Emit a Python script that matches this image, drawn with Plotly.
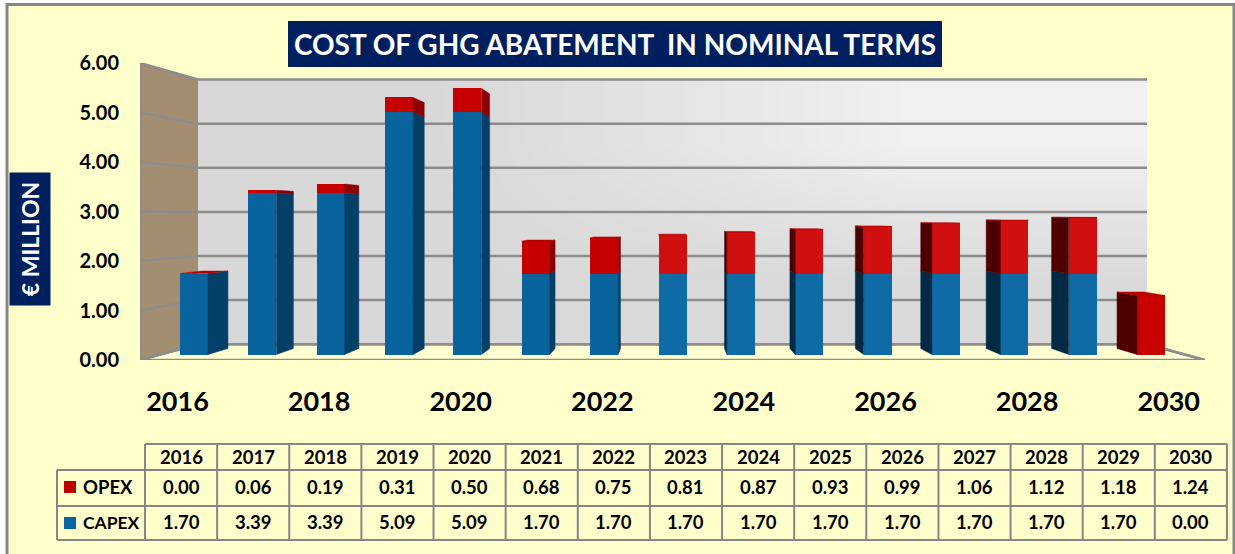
import plotly.graph_objects as go

years = list(range(2016, 2031))
opex = [0.00, 0.06, 0.19, 0.31, 0.50, 0.68, 0.75, 0.81, 0.87, 0.93, 0.99, 1.06, 1.12, 1.18, 1.24]
capex = [1.70, 3.39, 3.39, 5.09, 5.09, 1.70, 1.70, 1.70, 1.70, 1.70, 1.70, 1.70, 1.70, 1.70, 0.00]
value_ticks = [0, 1, 2, 3, 4, 5, 6]
year_ticks = [2016, 2018, 2020, 2022, 2024, 2026, 2028, 2030]

W, H = 1235, 554
FONT = "Lato"
BG = "#FFFFCC"
NAVY = "#001F5F"
GRID = "#8C8C8C"
INK = "#000000"
BLUE, RED = "#0A659F", "#C90505"

# plot rectangle in page pixels: the front plane of the 3-D box
PX0, PX1, PY0, PY1 = 140, 1205, 63, 360
def xp(px): return px / W
def yp(py): return 1 - py / H

# Vanishing point and depths, shared by both coordinate systems
VX, VV = 2022.99, 2.93
WALL_S = 0.891      # back wall relative to the front plane
BAR_S = 0.957       # rear of a bar relative to its front face
BAR_HALF = 0.205

def depth(x, v, s):
    return VX + (x - VX) * s, VV + (v - VV) * s

fig = go.Figure()

# ---- box (front-plane axes x / y) ----
wx0 = 2016 + (PX0 - 177.5) / 70.8
wx1 = 2016 + (PX1 - 177.5) / 70.8
bl = depth(wx0, 0, WALL_S)
tl = depth(wx0, 6, WALL_S)
br = depth(wx1, 0, WALL_S)
tr = depth(wx1, 6, WALL_S)

# floor
fig.add_trace(go.Scatter(x=[wx0, bl[0], br[0], wx1, wx0], y=[0, bl[1], br[1], 0, 0], mode="lines",
                         fill="toself", fillcolor="#FFFFD2", line=dict(color=GRID, width=2.5),
                         hoverinfo="skip", showlegend=False))
# back wall with its soft diagonal shading
fig.add_trace(go.Heatmap(x=[bl[0], (bl[0] + br[0]) / 2, br[0]], y=[bl[1], (bl[1] + tl[1]) / 2, tl[1]],
                         z=[[0.0, 0.1], [0.0, 1.0]], zsmooth="best", zmin=0, zmax=1,
                         colorscale=[[0, "#D8D8D8"], [1, "#F0F0F0"]], showscale=False, hoverinfo="skip"))
# side wall
fig.add_trace(go.Scatter(x=[wx0, bl[0], tl[0], wx0, wx0], y=[0, bl[1], tl[1], 6, 0], mode="lines",
                         fill="toself", fillcolor="#A38D70", line=dict(color="rgba(0,0,0,0)", width=0),
                         hoverinfo="skip", showlegend=False))
# grid lines
for v in value_ticks:
    a = depth(wx0, v, WALL_S)
    b = depth(wx1, v, WALL_S)
    fig.add_trace(go.Scatter(x=[wx0, a[0], b[0]], y=[v, a[1], b[1]], mode="lines",
                             line=dict(color=GRID, width=2.5), hoverinfo="skip", showlegend=False))
fig.add_trace(go.Scatter(x=[wx0, wx0], y=[0, 6], mode="lines", line=dict(color=GRID, width=3),
                         hoverinfo="skip", showlegend=False))
fig.add_trace(go.Scatter(x=[wx1, br[0]], y=[0, br[1]], mode="lines", line=dict(color=GRID, width=2.5),
                         hoverinfo="skip", showlegend=False))

# ---- bars (bar-plane axes x2 / y2) ----
blue_faces = ["#09639C" if y < VX else "#0F6BA6" for y in years]
red_faces = ["#C60000" if y < VX else "#D01010" for y in years]
red_faces[-1] = "#C80000"
fig.add_trace(go.Bar(x=years, y=capex, name="CAPEX", marker=dict(color=blue_faces, line=dict(width=0)),
                     width=2 * BAR_HALF, xaxis="x2", yaxis="y2", showlegend=False))
fig.add_trace(go.Bar(x=years, y=opex, name="OPEX", marker=dict(color=red_faces, line=dict(width=0)),
                     width=2 * BAR_HALF, xaxis="x2", yaxis="y2", showlegend=False))

def quad(xs, ys, color):
    fig.add_trace(go.Scatter(x=xs + xs[:1], y=ys + ys[:1], mode="lines", fill="toself", fillcolor=color,
                             line=dict(color=color, width=0.5), xaxis="x2", yaxis="y2",
                             hoverinfo="skip", showlegend=False))

for yr, cap, op in zip(years, capex, opex):
    left, right = yr - BAR_HALF, yr + BAR_HALF
    total = cap + op
    # side faces towards the vanishing point
    edge = right if right < VX else left if left > VX else None
    if edge is not None:
        early = edge < VX
        side_blue = "#033F66" if early else "#022A44"
        side_red = "#8A0004" if early else "#4E0000"
        for lo, hi, colr in ((0, cap, side_blue), (cap, total, side_red)):
            if hi > lo:
                a = depth(edge, lo, BAR_S)
                b = depth(edge, hi, BAR_S)
                quad([edge, a[0], b[0], edge], [lo, a[1], b[1], hi], colr)
    # top face is visible below eye level
    if total < VV:
        a = depth(left, total, BAR_S)
        b = depth(right, total, BAR_S)
        quad([left, a[0], b[0], right], [total, a[1], b[1], total], "#B80000")

# ---- table ----
TX = [57, 145] + [145 + 72.13 * (i + 1) for i in range(15)]
TY = [444, 470, 506, 540]
shapes = [
    dict(type="rect", xref="paper", yref="paper", x0=xp(7), x1=xp(1234), y0=yp(560), y1=yp(4.5),
         fillcolor=BG, line=dict(color="#868686", width=3), layer="below"),
    dict(type="rect", xref="paper", yref="paper", x0=xp(288), x1=xp(942), y0=yp(67), y1=yp(21),
         fillcolor=NAVY, line=dict(width=0), layer="below"),
]
def tline(x0, y0, x1, y1):
    shapes.append(dict(type="line", xref="paper", yref="paper", x0=xp(x0), x1=xp(x1), y0=yp(y0), y1=yp(y1),
                       line=dict(color="#868686", width=2)))
tline(TX[1], TY[0], TX[-1], TY[0])
for yy in TY[1:]:
    tline(TX[0], yy, TX[-1], yy)
tline(TX[0], TY[1], TX[0], TY[3])
for xx in TX[1:]:
    tline(xx, TY[0], xx, TY[3])
for color, y0 in (("#C00000", 481), (BLUE, 517)):
    shapes.append(dict(type="rect", xref="paper", yref="paper", x0=xp(64), x1=xp(76), y0=yp(y0 + 12), y1=yp(y0),
                       fillcolor=color, line=dict(width=0)))

annotations = [dict(text="€ MILLION", textangle=-90, xref="paper", yref="paper", x=xp(30), y=yp(239),
                    xanchor="center", yanchor="middle", showarrow=False,
                    font=dict(family=FONT, size=23, color="white", weight="bold"),
                    bgcolor=NAVY, borderpad=0, width=132, height=40)]
def cell(text, px, py, size=18.5, anchor="center"):
    annotations.append(dict(text=text, xref="paper", yref="paper", x=xp(px), y=yp(py), showarrow=False,
                            xanchor=anchor, yanchor="middle",
                            font=dict(family=FONT, size=size, color=INK, weight="bold")))
for i, yr in enumerate(years):
    cx = (TX[i + 1] + TX[i + 2]) / 2
    cell(str(yr), cx, 457)
    cell(f"{opex[i]:.2f}", cx, 487)
    cell(f"{capex[i]:.2f}", cx, 522)
cell("OPEX", 81, 487, anchor="left")
cell("CAPEX", 81, 522, anchor="left", size=17.5)

fig.update_layout(
    width=W, height=H, autosize=False,
    margin=dict(l=0, r=0, t=0, b=0, pad=0, autoexpand=False),
    paper_bgcolor="white", plot_bgcolor="rgba(0,0,0,0)",
    barmode="stack", bargap=0,
    title=dict(text="COST OF GHG ABATEMENT\u00a0\u00a0IN NOMINAL TERMS", x=615 / W, xanchor="center",
               y=yp(45), yanchor="middle", yref="paper",
               font=dict(family=FONT, size=28, color="white", weight="bold")),
    xaxis=dict(domain=[xp(PX0), xp(PX1)], range=[wx0, wx1], tickmode="array", tickvals=year_ticks,
               ticktext=[str(y) for y in year_ticks], showgrid=False, zeroline=False, showline=False,
               ticks="", ticklabelstandoff=23,
               tickfont=dict(family=FONT, size=27, color=INK, weight="bold")),
    yaxis=dict(domain=[yp(PY1), yp(PY0)], range=[0, 6], tickmode="array", tickvals=value_ticks,
               tickformat=".2f", showgrid=False, zeroline=False, showline=False, ticks="", ticklabelstandoff=20,
               tickfont=dict(family=FONT, size=20, color=INK, weight="bold")),
    xaxis2=dict(domain=[xp(PX0), xp(PX1)], overlaying="x", visible=False, anchor="y2",
                range=[2016 + (PX0 - 194) / 68.36, 2016 + (PX1 - 194) / 68.36]),
    yaxis2=dict(domain=[yp(PY1), yp(PY0)], overlaying="y", visible=False, anchor="x2",
                range=[(354.5 - PY1) / 47.6, (354.5 - PY0) / 47.6]),
    shapes=shapes, annotations=annotations,
)
fig.write_html("out.html", config={"displayModeBar": False},
               post_script="document.body.style.margin='0';document.body.style.overflow='hidden';")
